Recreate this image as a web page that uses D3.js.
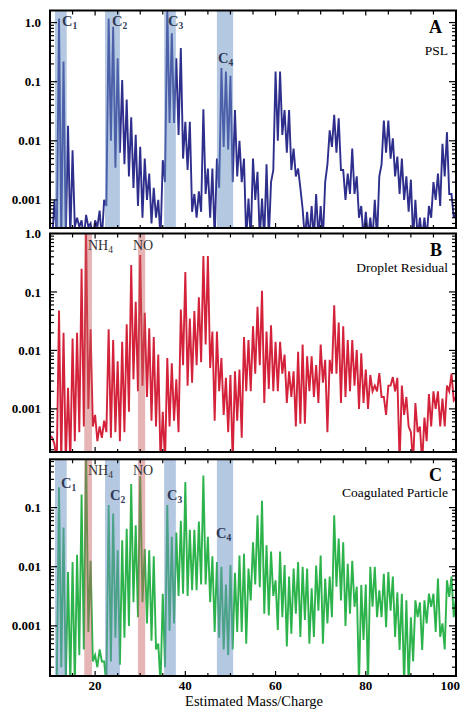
<!DOCTYPE html>
<html>
<head>
<meta charset="utf-8">
<script src="https://cdn.jsdelivr.net/npm/d3@7/dist/d3.min.js"></script>
<style>
  html, body { margin: 0; padding: 0; background: #fff; }
  svg { display: block; font-family: "Liberation Serif", "Times New Roman", serif; }
</style>
</head>
<body>
<svg id="chart" width="461" height="709"></svg>
<script>
// Integer mass channels (m/z); each is followed by an inter-channel minimum at m + 0.5
const masses = [10,11,12,13,14,15,16,17,18,19,20,21,22,23,24,25,26,27,28,29,30,31,32,33,34,35,36,37,38,39,40,
  41,42,43,44,45,46,47,48,49,50,51,52,53,54,55,56,57,58,59,60,61,62,63,64,65,66,67,68,69,70,
  71,72,73,74,75,76,77,78,79,80,81,82,83,84,85,86,87,88,89,90,91,92,93,94,95,96,97,98,99,100];

// A: PSL — peak intensity at each integer mass, then the minimum between channels
const pslPeaks = [3.5e-4,1.0e-3,1.17,0.22,0.018,0.0069,5.0e-4,4.5e-4,5.6e-4,4.0e-4,4.5e-4,6.6e-4,1.0e-3,1.17,0.85,0.25,0.107,0.05,0.025,0.0126,0.0079,
  0.005,0.0028,0.0016,0.001,0.0047,1.78,0.66,0.25,0.37,0.021,0.021,0.00126,0.0014,0.034,0.0034,0.0034,0.005,0.17,0.148,0.126,
  0.033,0.01,0.005,0.00105,0.005,0.003,0.00105,0.004,0.002,0.148,0.148,0.033,0.033,0.0074,0.0034,7.1e-4,6.3e-4,7.9e-4,0.00126,7.9e-4,
  0.002,0.015,0.0275,0.024,0.0032,0.0028,0.0074,0.0025,7.9e-4,6.3e-4,5.0e-4,0.001,0.0025,0.022,0.022,0.011,0.0054,0.005,0.0025,0.0022,
  0.001,5.0e-4,5.0e-4,7.9e-4,0.002,0.0028,0.0089,0.014,0.00126,6.3e-4];
const pslValleys = [2.2e-4,2.2e-4,2.2e-4,2.2e-4,2.2e-4,3.5e-4,3.5e-4,2.2e-4,3.5e-4,2.2e-4,3.5e-4,2.2e-4,7.9e-4,0.01,0.0035,0.0063,0.004,0.0025,0.0016,7.9e-4,
  5.0e-4,0.001,4.0e-4,5.0e-4,2.2e-4,0.002,0.02,0.02,0.0126,0.005,0.0032,6.3e-4,5.0e-4,6.3e-4,0.00126,5.0e-4,2.2e-4,0.0016,0.0079,0.0071,
  0.002,0.0025,0.002,2.2e-4,2.2e-4,0.001,2.2e-4,2.2e-4,2.2e-4,0.0032,0.01,0.0126,0.0063,0.0032,0.0025,0.0016,2.2e-4,2.2e-4,2.2e-4,2.2e-4,
  2.2e-4,0.004,0.0079,0.0063,0.0032,0.001,0.00126,0.00126,5.0e-4,2.2e-4,2.2e-4,2.2e-4,2.2e-4,0.004,0.0063,0.005,0.0025,0.00126,0.001,6.3e-4,
  2.2e-4,2.2e-4,2.2e-4,2.2e-4,5.0e-4,0.001,7.9e-4,0.0025,0.00126,5.0e-4];

// B: Droplet Residual
const dropletPeaks = [3.5e-4,2.5e-4,0.048,0.020,0.0023,0.016,0.020,0.25,1.0,0.023,7.9e-4,5.0e-4,6.3e-4,0.023,0.015,0.0065,0.014,0.028,0.29,0.068,0.43,
  0.044,0.024,0.017,0.0085,8.9e-4,0.0074,0.006,0.0032,0.05,0.22,0.035,0.047,0.081,0.41,0.41,0.021,0.021,0.0074,0.0034,0.0038,
  0.0044,0.0047,0.017,0.015,0.026,0.056,0.105,0.021,0.027,0.014,0.014,0.0085,0.0044,0.0044,0.0095,0.0126,0.0079,0.0079,0.0056,0.0126,
  0.0069,0.0069,0.059,0.030,0.026,0.015,0.015,0.0102,0.0089,0.0047,0.0038,0.0025,0.0041,0.0016,0.0025,0.0035,0.0034,0.0025,0.0016,4.0e-4,
  0.00126,5.0e-4,7.1e-4,0.0018,0.002,0.002,0.0015,0.0025,0.004,0.0016];
const dropletValleys = [3.2e-4,1.2e-4,1.2e-4,1.2e-4,1.2e-4,2.8e-4,4.0e-4,5.0e-4,0.001,5.0e-4,2.8e-4,3.2e-4,4.0e-4,3.2e-4,4.0e-4,2.8e-4,4.0e-4,8.9e-4,0.0032,0.002,
  0.0025,0.0016,6.3e-4,5.0e-4,1.2e-4,1.2e-4,5.0e-4,6.3e-4,4.0e-4,0.0056,0.0025,0.0028,0.0056,0.0063,0.0126,0.005,6.3e-4,0.002,7.9e-4,4.0e-4,
  1.2e-4,6.3e-4,3.2e-4,0.002,0.002,0.004,0.0056,0.00126,0.0022,0.002,0.002,0.004,0.00126,0.0016,5.0e-4,5.6e-4,5.6e-4,0.002,0.0016,0.00126,
  0.0028,4.0e-4,0.004,0.004,0.00126,0.0016,0.002,0.0025,0.001,0.00126,0.001,0.002,0.002,0.0016,7.9e-4,0.0025,0.002,1.2e-4,7.9e-4,5.0e-4,
  1.2e-4,4.0e-4,1.2e-4,2.8e-4,5.0e-4,0.001,5.0e-4,5.0e-4,0.002,0.0014];

// C: Coagulated Particle
const coagPeaks = [1.0e-4,1.0e-4,0.22,0.046,0.0081,0.012,0.016,0.166,1.0,0.0126,3.2e-4,4.0e-4,2.5e-4,0.11,0.079,0.019,0.028,0.044,0.25,0.05,0.34,
  0.02,0.019,0.015,5.0e-4,0.0035,0.11,0.032,0.038,0.06,0.27,0.042,0.042,0.058,0.35,0.032,0.015,0.012,0.01,0.005,0.0107,
  0.0079,0.0155,0.0166,0.0093,0.026,0.074,0.13,0.023,0.018,0.0059,0.018,0.0107,0.0068,0.0093,0.012,0.01,0.0093,0.0043,0.0105,0.0155,
  0.0063,0.0068,0.074,0.030,0.026,0.0112,0.0126,0.0046,0.0049,0.005,0.01,0.01,0.004,0.0076,0.0081,0.0068,0.0037,0.0035,0.0027,0.0014,
  0.0027,0.0025,0.0027,0.0035,0.0035,0.0063,0.0011,0.0059,0.0068,0.0032];
const coagValleys = [1.0e-4,1.0e-4,2.0e-4,1.0e-4,1.0e-4,1.0e-4,3.2e-4,4.0e-4,7.9e-4,2.5e-4,2.0e-4,2.5e-4,1.0e-4,2.5e-4,6.3e-4,2.2e-4,6.3e-4,0.001,0.0025,0.0014,
  0.0025,0.0011,5.6e-4,4.0e-4,1.0e-4,2.0e-4,8.3e-4,0.0011,0.0032,0.0035,0.0032,0.004,0.004,0.005,0.005,0.0025,7.9e-4,6.3e-4,4.0e-4,3.2e-4,
  4.0e-4,7.9e-4,7.9e-4,5.0e-4,0.0027,0.005,0.0045,0.0016,0.0015,0.0032,8.5e-4,0.0014,4.5e-4,7.4e-4,0.0016,6.5e-4,0.00126,5.0e-4,6.5e-4,0.0018,
  5.0e-4,0.0011,0.0014,0.0046,0.0027,0.001,0.0016,0.0021,1.0e-4,5.8e-4,1.0e-4,0.0021,0.0014,0.0014,9.5e-4,0.0018,6.5e-4,3.9e-4,1.0e-4,1.0e-4,
  2.5e-4,0.0014,3.9e-4,0.0011,0.0021,7.9e-4,6.5e-4,4.0e-4,0.0031,0.0014];

// Shaded mass windows: carbon clusters and the NH4 / NO ions
const carbonBands = [
  { label: "C", sub: "1", from: 11.1, to: 13.7 },
  { label: "C", sub: "2", from: 22.2, to: 25.5 },
  { label: "C", sub: "3", from: 35.3, to: 37.9 },
  { label: "C", sub: "4", from: 47.0, to: 50.6 }
];
const ionBands = [
  { label: "NH", sub: "4", from: 17.6, to: 19.3 },
  { label: "NO", sub: "", from: 29.5, to: 31.1 }
];

const xTickLabels = [20, 40, 60, 80, 100];
const yTickLabels = [1.0, 0.1, 0.01, 0.001];

function buildSeries(peaks, valleys) {
  const out = [];
  masses.forEach((m, i) => {
    out.push({ m: m, v: peaks[i] });
    if (i < valleys.length) out.push({ m: m + 0.5, v: valleys[i] });
  });
  return out;
}

const panels = [
  { id: "A", title: "PSL", color: "#2e2f8c", peaks: pslPeaks, valleys: pslValleys,
    top: 10.5, bottom: 228, yDomain: [3.35e-4, 1.6],
    carbon: true, ions: false,
    carbonPos: [[62, 26], [112, 26], [168, 26], [218, 63]], ionPos: [] },
  { id: "B", title: "Droplet Residual", color: "#d3223a", peaks: dropletPeaks, valleys: dropletValleys,
    top: 233.5, bottom: 452, yDomain: [1.83e-4, 1.0],
    carbon: false, ions: true,
    carbonPos: [], ionPos: [[88, 250], [133, 250]] },
  { id: "C", title: "Coagulated Particle", color: "#2db34b", peaks: coagPeaks, valleys: coagValleys,
    top: 459.3, bottom: 676, yDomain: [1.42e-4, 0.655],
    carbon: true, ions: true,
    carbonPos: [[61, 488], [110, 500], [167, 500], [216, 538]], ionPos: [[88, 475], [133, 475]] }
];

const left = 50, right = 456;
const svg = d3.select("#chart");
const x = d3.scaleLinear().domain([10, 100]).range([left, right]);

const xMinor = d3.range(15, 100, 5);

panels.forEach((p, pi) => {
  const y = d3.scaleLog().domain(p.yDomain).range([p.bottom, p.top]);
  const g = svg.append("g");
  const clipId = "clip" + p.id;
  svg.append("clipPath").attr("id", clipId)
    .append("rect").attr("x", left).attr("y", p.top)
    .attr("width", right - left).attr("height", p.bottom - p.top);

  const plot = g.append("g").attr("clip-path", `url(#${clipId})`);

  // spectrum trace
  const series = buildSeries(p.peaks, p.valleys);
  const line = d3.line().x(d => x(d.m)).y(d => y(d.v));
  plot.append("path").datum(series)
    .attr("fill", "none").attr("stroke", p.color)
    .attr("stroke-width", 1.9).attr("stroke-linejoin", "miter")
    .attr("d", line);

  // translucent windows laid over the trace
  if (p.carbon) {
    plot.selectAll("rect.cb").data(carbonBands).join("rect")
      .attr("class", "cb")
      .attr("x", d => x(d.from)).attr("width", d => x(d.to) - x(d.from))
      .attr("y", p.top).attr("height", p.bottom - p.top)
      .attr("fill", "#6a92c6").attr("fill-opacity", 0.5);
  }
  if (p.ions) {
    plot.selectAll("rect.ib").data(ionBands).join("rect")
      .attr("class", "ib")
      .attr("x", d => x(d.from)).attr("width", d => x(d.to) - x(d.from))
      .attr("y", p.top).attr("height", p.bottom - p.top)
      .attr("fill", "#c85a5a").attr("fill-opacity", 0.45);
  }

  // y ticks (log, inward on both sides)
  const [lo, hi] = p.yDomain;
  const yTicks = [];
  for (let e = Math.floor(Math.log10(lo)); e <= Math.ceil(Math.log10(hi)); e++) {
    for (let k = 1; k <= 9; k++) {
      const v = k * Math.pow(10, e);
      if (v >= lo && v <= hi) yTicks.push({ v: v, major: k === 1 });
    }
  }
  g.selectAll("line.ytl").data(yTicks).join("line").attr("class", "ytl")
    .attr("x1", left).attr("x2", d => left + (d.major ? 7 : 4))
    .attr("y1", d => y(d.v)).attr("y2", d => y(d.v))
    .attr("stroke", "#000").attr("stroke-width", 1.2);
  g.selectAll("line.ytr").data(yTicks).join("line").attr("class", "ytr")
    .attr("x1", right).attr("x2", d => right - (d.major ? 7 : 4))
    .attr("y1", d => y(d.v)).attr("y2", d => y(d.v))
    .attr("stroke", "#000").attr("stroke-width", 1.2);

  // y tick labels
  g.selectAll("text.yl").data(yTickLabels.filter(v => v >= lo && v <= hi * 1.001)).join("text")
    .attr("class", "yl")
    .attr("x", 41).attr("y", d => y(d))
    .attr("dy", "0.35em")
    .attr("text-anchor", "end")
    .attr("font-weight", "bold").attr("font-size", 13)
    .text(d => d === 1 ? "1.0" : String(d));

  // x ticks along top and bottom edges
  const xt = xMinor.map(m => ({ m: m, major: m % 20 === 0 }));
  g.selectAll("line.xtt").data(xt).join("line").attr("class", "xtt")
    .attr("x1", d => x(d.m)).attr("x2", d => x(d.m))
    .attr("y1", p.top).attr("y2", d => p.top + (d.major ? 5 : 4))
    .attr("stroke", "#000").attr("stroke-width", 1.2);
  g.selectAll("line.xtb").data(xt).join("line").attr("class", "xtb")
    .attr("x1", d => x(d.m)).attr("x2", d => x(d.m))
    .attr("y1", p.bottom).attr("y2", d => p.bottom - (d.major ? 5 : 3))
    .attr("stroke", "#000").attr("stroke-width", 1.2);

  // frame
  g.append("rect").attr("x", left).attr("y", p.top)
    .attr("width", right - left).attr("height", p.bottom - p.top)
    .attr("fill", "none").attr("stroke", "#000").attr("stroke-width", 2);

  // panel letter and description
  g.append("text").attr("x", 442).attr("y", p.top + 22)
    .attr("text-anchor", "end").attr("font-weight", "bold").attr("font-size", 18)
    .text(p.id);
  g.append("text").attr("x", 448).attr("y", p.top + (p.id === "A" ? 44 : 38))
    .attr("text-anchor", "end").attr("font-size", 13.5)
    .text(p.title);

  // band labels
  if (p.carbon) {
    carbonBands.forEach((b, i) => {
      const t = g.append("text").attr("x", p.carbonPos[i][0]).attr("y", p.carbonPos[i][1])
        .attr("font-weight", "bold").attr("font-size", 14.5).attr("fill", "#2f3a56");
      t.append("tspan").text(b.label);
      t.append("tspan").attr("font-size", 9.5).attr("dy", 3).text(b.sub);
    });
  }
  if (p.ions) {
    ionBands.forEach((b, i) => {
      const t = g.append("text").attr("x", p.ionPos[i][0]).attr("y", p.ionPos[i][1])
        .attr("font-size", 14).attr("fill", "#333");
      t.append("tspan").text(b.label);
      if (b.sub) t.append("tspan").attr("font-size", 9.5).attr("dy", 3).text(b.sub);
    });
  }

  // mass axis labels on the last panel; the last one is kept inside the page edge
  if (pi === panels.length - 1) {
    const last = xTickLabels[xTickLabels.length - 1];
    g.selectAll("text.xl").data(xTickLabels).join("text").attr("class", "xl")
      .attr("x", d => d === last ? 460 : x(d)).attr("y", 690)
      .attr("text-anchor", d => d === last ? "end" : "middle")
      .attr("font-weight", "bold").attr("font-size", 13)
      .text(d => d);
    g.append("text").attr("x", 254).attr("y", 706)
      .attr("text-anchor", "middle").attr("font-size", 14.5)
      .text("Estimated Mass/Charge");
  }
});
</script>
</body>
</html>
